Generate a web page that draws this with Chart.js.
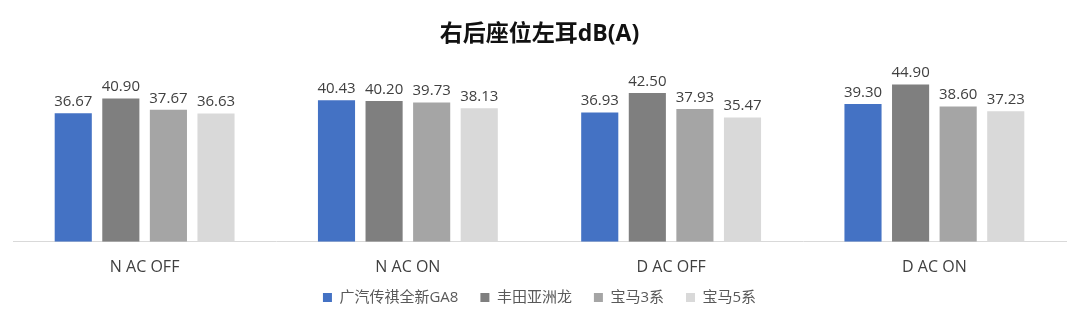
<!DOCTYPE html>
<html>
<head>
<meta charset="utf-8">
<script src="https://cdn.jsdelivr.net/npm/chart.js@4/dist/chart.umd.min.js"></script>
<style>
  html, body { margin: 0; padding: 0; background: #ffffff; }
  #wrap { width: 1080px; height: 319px; position: relative; }
</style>
</head>
<body>
<div id="wrap"><canvas id="c" width="1080" height="319"></canvas></div>
<script>
const categories = ["N AC OFF", "N AC ON", "D AC OFF", "D AC ON"];
const seriesNames = ["广汽传祺全新GA8", "丰田亚洲龙", "宝马3系", "宝马5系"];
const ga8 = [36.67, 40.43, 36.93, 39.30];
const avalon = [40.90, 40.20, 42.50, 44.90];
const bmw3 = [37.67, 39.73, 37.93, 38.60];
const bmw5 = [36.63, 38.13, 35.47, 37.23];
const seriesColors = ["#4472C4", "#7F7F7F", "#A5A5A5", "#D9D9D9"];
const titleText = "右后座位左耳dB(A)";

const FONT = "'Open Sans', 'Noto Sans CJK SC', sans-serif";

const valueLabels = {
  id: 'valueLabels',
  afterDatasetsDraw(chart) {
    const ctx = chart.ctx;
    ctx.save();
    ctx.font = "15px " + FONT;
    ctx.fillStyle = "#404040";
    ctx.textAlign = "center";
    ctx.textBaseline = "bottom";
    chart.data.datasets.forEach((ds, i) => {
      const meta = chart.getDatasetMeta(i);
      meta.data.forEach((bar, j) => {
        ctx.fillText(ds.data[j].toFixed(2), bar.x, bar.y - 4);
      });
    });
    ctx.restore();
  }
};

// move the legend rows up a little, closer to the category labels
const legendShift = {
  id: 'legendShift',
  afterLayout(chart) {
    const lg = chart.legend;
    if (lg) { lg.top -= 10; lg.bottom -= 10; }
  }
};

const allSeries = [ga8, avalon, bmw3, bmw5];
new Chart(document.getElementById('c'), {
  type: 'bar',
  data: {
    labels: categories,
    datasets: allSeries.map((d, i) => ({
      label: seriesNames[i],
      data: d,
      backgroundColor: seriesColors[i],
      borderWidth: 0,
      categoryPercentage: 0.723,
      barPercentage: 0.78
    }))
  },
  options: {
    responsive: false,
    animation: false,
    devicePixelRatio: 1,
    layout: { padding: { left: 13, right: 14, top: 0, bottom: 3 } },
    plugins: {
      title: {
        display: true,
        text: titleText,
        color: "#111111",
        font: { family: FONT, size: 23, weight: 'bold' },
        padding: { top: 21, bottom: 18 }
      },
      legend: {
        display: true,
        position: 'bottom',
        maxHeight: 38,
        labels: {
          color: "#595959",
          font: { family: FONT, size: 15 },
          boxWidth: 9,
          boxHeight: 9,
          padding: 22
        }
      },
      tooltip: { enabled: false }
    },
    scales: {
      x: {
        grid: { display: false, drawTicks: false },
        border: { display: true, color: "#D9D9D9", width: 1 },
        ticks: { color: "#404040", font: { family: FONT, size: 16 }, padding: 16 },
        afterFit: (scale) => { scale.height -= 15; }
      },
      y: {
        display: false,
        min: 0,
        max: 50
      }
    }
  },
  plugins: [valueLabels, legendShift]
});
</script>
</body>
</html>
